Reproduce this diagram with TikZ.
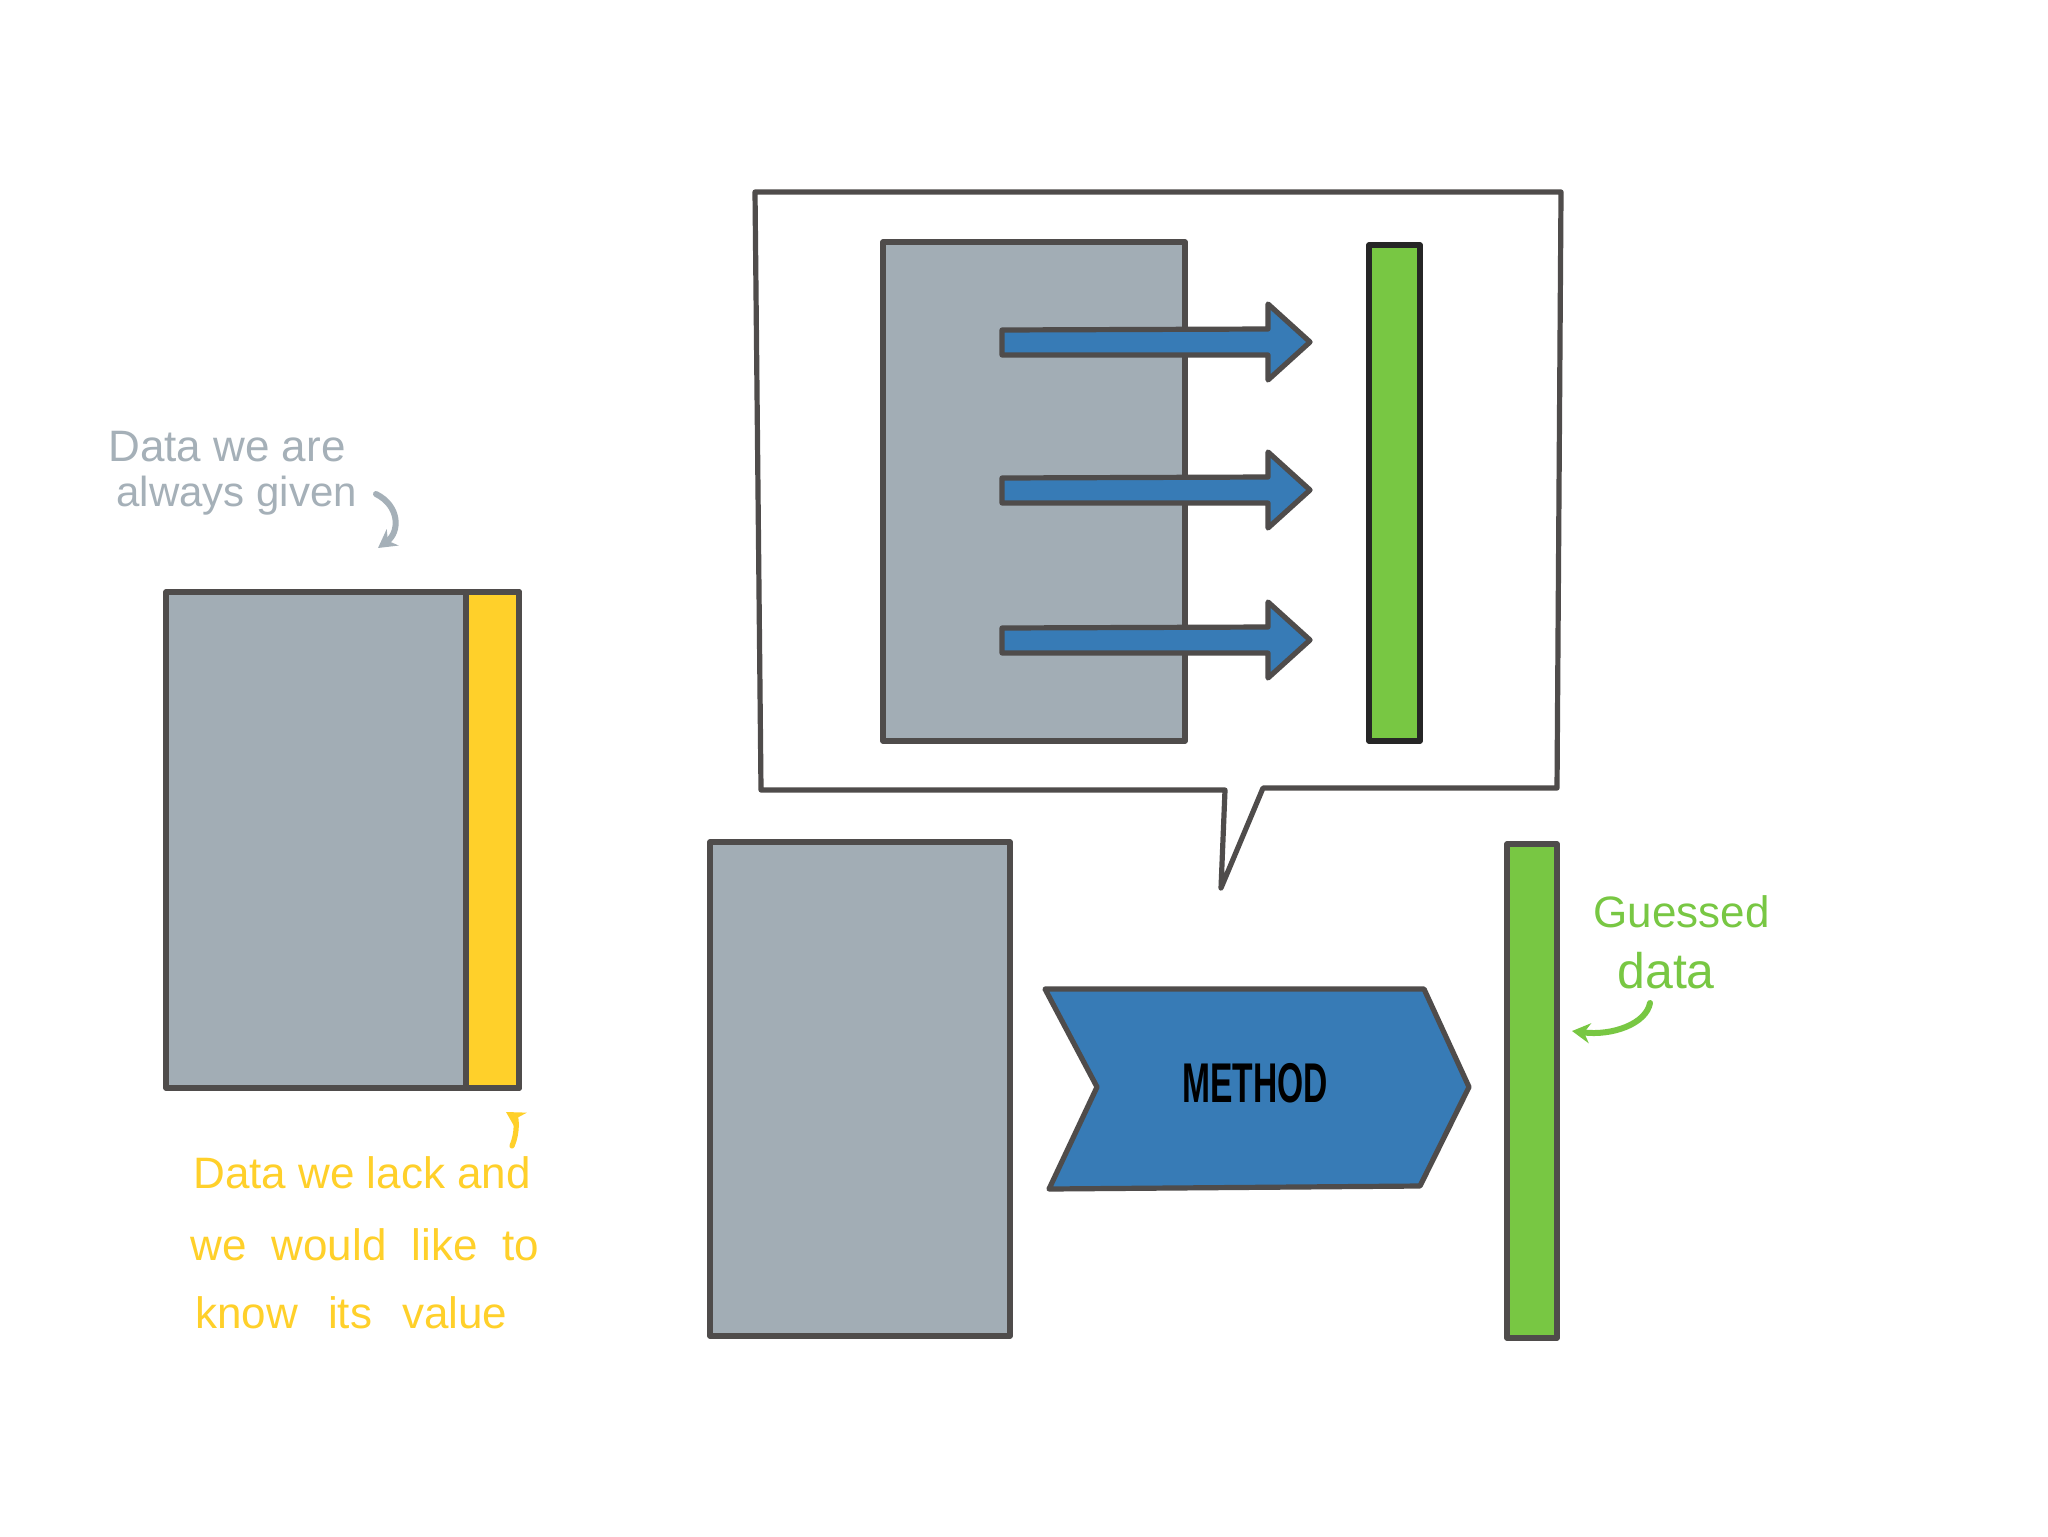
\documentclass[tikz,border=0pt]{standalone}
\usepackage{fontspec}
\setmainfont{Liberation Sans}
\usetikzlibrary{fit,arrows.meta}
\definecolor{lineC}{HTML}{4F4C4B}
\definecolor{greyC}{HTML}{A2ADB5}
\definecolor{greyT}{HTML}{A5B0B8}
\definecolor{yellowC}{HTML}{FFD02A}
\definecolor{greenC}{HTML}{78C743}
\definecolor{blueC}{HTML}{377BB6}
\tikzset{
  outline/.style={draw=lineC, line width=2.6pt, line join=round, line cap=round},
  greybox/.style={outline, fill=greyC, inner sep=0pt},
  yellowbox/.style={outline, fill=yellowC, inner sep=0pt},
  greenbox/.style={outline, fill=greenC, inner sep=0pt},
  blockarrow/.style={outline, fill=blueC},
  hand/.style={font=\fontsize{22}{24}\selectfont, inner sep=0pt, anchor=west},
  pointer/.style={line width=3pt, line cap=round, -{Stealth[length=9pt,width=10pt]}},
}
\begin{document}
\begin{tikzpicture}[x=0.5pt,y=-0.5pt]
\useasboundingbox (0,0) rectangle (2048,1536);
\fill[white] (0,0) rectangle (2048,1536);

% left data block
\coordinate (lgA) at (166,592); \coordinate (lgB) at (519,1088);
\node[greybox, fit=(lgA)(lgB)] (given) {};
\coordinate (lyA) at (466,592); \coordinate (lyB) at (519,1088);
\node[yellowbox, fit=(lyA)(lyB)] (lack) {};

% left labels
\node[hand, text=greyT] (t1) at (108,447) {Data we are};
\node[hand, text=greyT, font=\fontsize{21}{23}\selectfont] (t2) at (116,496) {always given};
\coordinate (g1) at (376,494);
\coordinate (g2) at (378,548);
\draw[pointer, greyT] (g1) .. controls (400,506) and (400,532) .. (g2);

\node[hand, text=yellowC] (y1) at (193,1173) {Data we lack and};
\node[hand, text=yellowC] (y2) at (190,1245) {\spaceskip=12.5pt plus 1pt we would like to};
\node[hand, text=yellowC] (y3) at (195,1313) {\spaceskip=15pt plus 1pt know its value};
\coordinate (ya) at (512,1146);
\coordinate (yb) at (506,1112);
\draw[pointer, yellowC, line width=2.6pt] (ya) .. controls (518,1132) and (516,1118) .. (yb);

% callout
\draw[outline, fill=white] (755,192) -- (1561,192) -- (1557,788) -- (1263,788)
   -- (1221,888) -- (1225,790) -- (761,790) -- cycle;
\coordinate (igA) at (883,242); \coordinate (igB) at (1185,741);
\node[greybox, fit=(igA)(igB)] (ingrey) {};
\coordinate (inA) at (1369,245); \coordinate (inB) at (1420,741);
\node[greenbox, draw=black!85, fit=(inA)(inB)] (ingreen) {};
\foreach \yy in {342,490,640}{
  \draw[blockarrow] (1002,\yy-12) -- (1268,\yy-13) -- (1268,\yy-38) -- (1310,\yy)
     -- (1268,\yy+38) -- (1268,\yy+13) -- (1002,\yy+13) -- cycle;
}

% lower row
\coordinate (lwA) at (710,842); \coordinate (lwB) at (1010,1336);
\node[greybox, fit=(lwA)(lwB)] (input) {};
\draw[outline, fill=blueC] (1045,989) -- (1424,989) -- (1469,1087) -- (1420,1186)
   -- (1049,1189) -- (1097,1087) -- cycle;
\node[inner sep=0pt] (method) at (1255,1083)
   {\scalebox{0.6}[1]{\fontsize{28}{30}\selectfont\bfseries METHOD}};
\coordinate (gnA) at (1507,844); \coordinate (gnB) at (1557,1338);
\node[greenbox, fit=(gnA)(gnB)] (guessed) {};

\node[hand, text=greenC] (gt1) at (1593,912) {Guessed};
\node[hand, text=greenC, font=\fontsize{25}{27}\selectfont] (gt2) at (1617,971) {data};
\coordinate (ga) at (1650,1003);
\coordinate (gb) at (1572,1031);
\draw[pointer, greenC] (ga) .. controls (1646,1024) and (1612,1036) .. (gb);
\end{tikzpicture}
\end{document}
